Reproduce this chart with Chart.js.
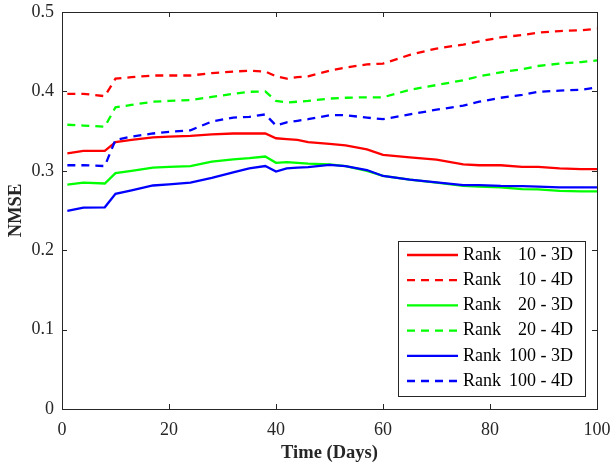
<!DOCTYPE html>
<html>
<head>
<meta charset="utf-8">
<script src="https://cdn.jsdelivr.net/npm/chart.js@4"></script>
<style>
  html, body { margin: 0; padding: 0; background: #fff; }
  canvas { display: block; }
</style>
</head>
<body>
<canvas id="nmseChart" width="611" height="462"></canvas>
<script>
// values
const days = [1, 4, 8, 10, 13, 17, 20, 24, 28, 32, 35, 38, 40, 42, 44, 46, 50, 53, 57, 60, 65, 70, 75, 78, 82, 86, 89, 93, 97, 100];

const rank10_3d  = [0.322, 0.325, 0.325, 0.336, 0.339, 0.342, 0.343, 0.344, 0.346, 0.347, 0.347, 0.347, 0.341, 0.340, 0.339, 0.336, 0.334, 0.332, 0.327, 0.320, 0.317, 0.314, 0.308, 0.307, 0.307, 0.305, 0.305, 0.303, 0.302, 0.302];
const rank10_4d  = [0.397, 0.397, 0.394, 0.416, 0.418, 0.420, 0.420, 0.420, 0.423, 0.425, 0.426, 0.425, 0.419, 0.416, 0.418, 0.419, 0.426, 0.430, 0.434, 0.435, 0.446, 0.454, 0.459, 0.463, 0.468, 0.471, 0.474, 0.476, 0.477, 0.479];
const rank20_3d  = [0.2825, 0.285, 0.284, 0.297, 0.300, 0.304, 0.305, 0.306, 0.3115, 0.3145, 0.316, 0.318, 0.310, 0.311, 0.310, 0.309, 0.308, 0.306, 0.300, 0.2935, 0.289, 0.285, 0.281, 0.280, 0.279, 0.277, 0.2767, 0.2746, 0.274, 0.274];
const rank20_4d  = [0.358, 0.357, 0.3555, 0.380, 0.383, 0.387, 0.388, 0.389, 0.393, 0.397, 0.3995, 0.400, 0.388, 0.386, 0.387, 0.388, 0.391, 0.392, 0.3926, 0.3926, 0.402, 0.408, 0.414, 0.419, 0.424, 0.428, 0.432, 0.435, 0.437, 0.439];
const rank100_3d = [0.2495, 0.2535, 0.254, 0.271, 0.2755, 0.2815, 0.283, 0.285, 0.291, 0.298, 0.303, 0.306, 0.299, 0.303, 0.304, 0.3045, 0.3075, 0.306, 0.301, 0.2935, 0.289, 0.2855, 0.282, 0.282, 0.281, 0.2808, 0.280, 0.279, 0.279, 0.279];
const rank100_4d = [0.307, 0.307, 0.306, 0.339, 0.343, 0.347, 0.349, 0.351, 0.362, 0.367, 0.368, 0.371, 0.357, 0.361, 0.363, 0.365, 0.370, 0.370, 0.367, 0.365, 0.371, 0.377, 0.382, 0.387, 0.392, 0.3955, 0.3995, 0.401, 0.402, 0.405];

const seriesNames = ['10 - 3D', '10 - 4D', '20 - 3D', '20 - 4D', '100 - 3D', '100 - 4D'];
const xTicks = [0, 20, 40, 60, 80, 100];
const yTicks = [0, 0.1, 0.2, 0.3, 0.4, 0.5];

const axisColor = '#262626';
const serif = "'Liberation Serif', 'Times New Roman', serif";

const toPoints = arr => days.map((d, i) => ({ x: d, y: arr[i] }));

function makeSet(name, values, color, dashed, idx) {
	return {
		label: 'Rank ' + name,
		data: toPoints(values),
		borderColor: color,
		backgroundColor: color,
		borderWidth: 2.3,
		borderDash: dashed ? [8, 6] : [],
		pointRadius: 0,
		tension: 0,
		fill: false,
		order: 10 - idx   // later series sit on top, like the original
	};
}

// box around the plot, inward tick marks, and the boxed legend in the lower right
const frameAndLegend = {
	id: 'frameAndLegend',
	afterDatasetsDraw(chart) {
		const { ctx, chartArea: a, scales: { x, y } } = chart;
		ctx.save();
		ctx.strokeStyle = axisColor;
		ctx.lineWidth = 1;
		ctx.setLineDash([]);
		ctx.strokeRect(a.left + 0.5, a.top + 0.5, a.right - a.left, a.bottom - a.top);

		const tl = 5;
		ctx.beginPath();
		xTicks.forEach(v => {
			const px = Math.round(x.getPixelForValue(v)) + 0.5;
			ctx.moveTo(px, a.bottom); ctx.lineTo(px, a.bottom - tl);
			ctx.moveTo(px, a.top); ctx.lineTo(px, a.top + tl);
		});
		yTicks.forEach(v => {
			const py = Math.round(y.getPixelForValue(v)) + 0.5;
			ctx.moveTo(a.left, py); ctx.lineTo(a.left + tl, py);
			ctx.moveTo(a.right, py); ctx.lineTo(a.right - tl, py);
		});
		ctx.stroke();

		// legend
		const box = { left: 398, top: 241, right: 585, bottom: 396 };
		ctx.fillStyle = '#fff';
		ctx.fillRect(box.left, box.top, box.right - box.left, box.bottom - box.top);
		ctx.strokeRect(box.left + 0.5, box.top + 0.5, box.right - box.left, box.bottom - box.top);

		ctx.font = '18px ' + serif;
		ctx.textBaseline = 'middle';
		chart.data.datasets.forEach((ds, i) => {
			const cy = 255 + i * 25.2;
			ctx.strokeStyle = ds.borderColor;
			ctx.lineWidth = 2.3;
			ctx.setLineDash(ds.borderDash);
			ctx.beginPath();
			ctx.moveTo(407, cy); ctx.lineTo(458, cy);
			ctx.stroke();
			ctx.fillStyle = '#000';
			ctx.textAlign = 'left';
			ctx.fillText('Rank', 463, cy);
			ctx.textAlign = 'right';
			ctx.fillText(seriesNames[i], 573, cy);
		});
		ctx.restore();
	}
};

new Chart(document.getElementById('nmseChart'), {
	type: 'line',
	data: {
		datasets: [
			makeSet(seriesNames[0], rank10_3d, '#ff0000', false, 0),
			makeSet(seriesNames[1], rank10_4d, '#ff0000', true, 1),
			makeSet(seriesNames[2], rank20_3d, '#00ff00', false, 2),
			makeSet(seriesNames[3], rank20_4d, '#00ff00', true, 3),
			makeSet(seriesNames[4], rank100_3d, '#0000ff', false, 4),
			makeSet(seriesNames[5], rank100_4d, '#0000ff', true, 5)
		]
	},
	options: {
		responsive: false,
		animation: false,
		devicePixelRatio: 1,
		layout: { padding: { top: 12, right: 14, left: 0, bottom: 0 } },
		plugins: { legend: { display: false }, tooltip: { enabled: false } },
		scales: {
			x: {
				type: 'linear',
				min: 0, max: 100,
				afterBuildTicks: s => { s.ticks = xTicks.map(v => ({ value: v })); },
				afterFit: s => { s.height = 53; s.paddingLeft = 0; s.paddingRight = 0; },
				grid: { display: false, drawTicks: false },
				border: { display: false },
				ticks: { color: axisColor, font: { family: serif, size: 18 }, padding: 10, maxRotation: 0 },
				title: {
					display: true, text: 'Time (Days)', color: axisColor,
					font: { family: serif, size: 18.5, weight: 'bold', lineHeight: 1 },
					padding: 0
				}
			},
			y: {
				min: 0, max: 0.5,
				afterBuildTicks: s => { s.ticks = yTicks.map(v => ({ value: v })); },
				afterFit: s => { s.width = 62; s.paddingTop = 0; s.paddingBottom = 0; },
				grid: { display: false, drawTicks: false },
				border: { display: false },
				ticks: {
					color: axisColor, font: { family: serif, size: 18 }, padding: 8,
					callback: v => String(Number(v.toFixed(1)))
				},
				title: {
					display: true, text: 'NMSE', color: axisColor,
					font: { family: serif, size: 18.5, weight: 'bold', lineHeight: 1 },
					padding: { top: 7, bottom: 0 }
				}
			}
		}
	},
	plugins: [frameAndLegend]
});
</script>
</body>
</html>
